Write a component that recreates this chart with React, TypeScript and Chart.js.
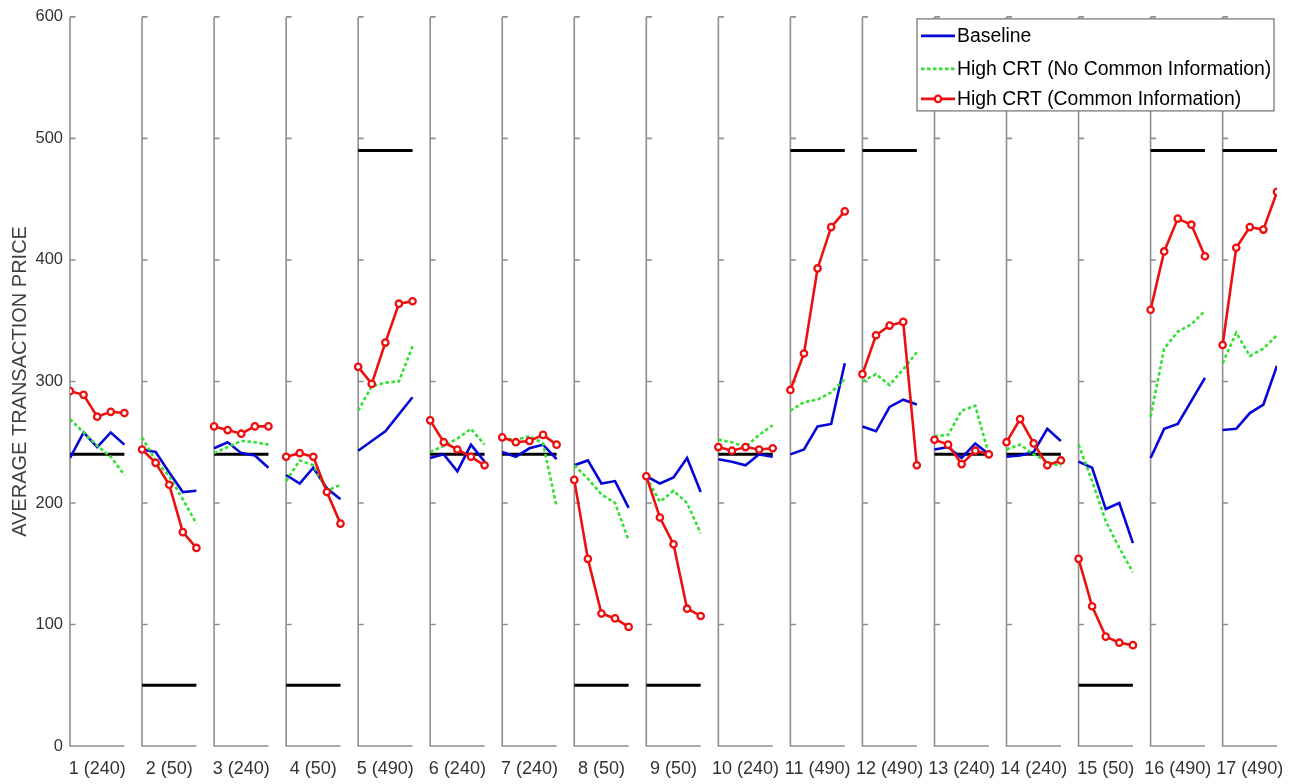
import React, { useEffect, useRef } from 'react';
import { Chart, registerables } from 'chart.js';

Chart.register(...registerables);

// ---------------- data ----------------
const panelLabels = [
  '1 (240)', '2 (50)', '3 (240)', '4 (50)', '5 (490)', '6 (240)', '7 (240)', '8 (50)', '9 (50)',
  '10 (240)', '11 (490)', '12 (490)', '13 (240)', '14 (240)', '15 (50)', '16 (490)', '17 (490)',
];
const periods = [1, 2, 3, 4, 5];
const equilibrium = [240, 50, 240, 50, 490, 240, 240, 50, 50, 240, 490, 490, 240, 240, 50, 490, 490];

const baseline = [
  [237, 258, 246, 258, 248],
  [244, 242, 225, 209, 210],
  [245, 250, 241, 239, 229],
  [223, 216, 229, 212, 203],
  [243, 251, 259, 273, 287],
  [237, 240, 226, 248, 234],
  [242, 238, 245, 248, 236],
  [231, 235, 216, 218, 196],
  [222, 216, 221, 237, 209],
  [236, 234, 231, 240, 238],
  [240, 244, 263, 265, 315],
  [263, 259, 279, 285, 281],
  [244, 246, 237, 249, 240],
  [238, 239, 242, 261, 251],
  [234, 229, 195, 200, 167],
  [237, 261, 265, 284, 303],
  [260, 261, 274, 281, 313],
];

const highCrtNoInfo = [
  [269, 258, 247, 238, 223],
  [254, 235, 222, 203, 183],
  [241, 246, 251, 250, 248],
  [218, 235, 231, 210, 215],
  [276, 296, 299, 300, 329],
  [242, 247, 253, 261, 248],
  [253, 252, 255, 249, 197],
  [231, 220, 207, 200, 169],
  [221, 201, 210, 200, 175],
  [252, 250, 246, 256, 264],
  [276, 283, 285, 291, 302],
  [300, 306, 297, 310, 324],
  [255, 256, 276, 280, 240],
  [244, 248, 240, 234, 230],
  [248, 218, 185, 163, 143],
  [271, 327, 341, 347, 358],
  [315, 340, 321, 327, 338],
];

const highCrtInfo = [
  [292, 289, 271, 275, 274],
  [244, 233, 215, 176, 163],
  [263, 260, 257, 263, 263],
  [238, 241, 238, 209, 183],
  [312, 298, 332, 364, 366],
  [268, 250, 244, 238, 231],
  [254, 250, 251, 256, 248],
  [219, 154, 109, 105, 98],
  [222, 188, 166, 113, 107],
  [246, 243, 246, 244, 245],
  [293, 323, 393, 427, 440],
  [306, 338, 346, 349, 231],
  [252, 248, 232, 243, 240],
  [250, 269, 249, 231, 235],
  [154, 115, 90, 85, 83],
  [359, 407, 434, 429, 403],
  [330, 410, 427, 425, 456],
];

const yTicks = [0, 100, 200, 300, 400, 500, 600];

// ------------- layout constants -------------
const PITCH = 5.3; // x-units between panel origins (panel spans 4 units)
const SPAN = periods[periods.length - 1] - periods[0];
const FONT = "'Liberation Sans', Arial, Helvetica, sans-serif";

const toX = (panel: number, period: number) => panel * PITCH + (period - periods[0]);

function buildSeries(values: number[][]) {
  const pts: { x: number; y: number | null }[] = [];
  values.forEach((row, i) => {
    row.forEach((v, j) => pts.push({ x: toX(i, periods[j]), y: v }));
    if (i < values.length - 1) pts.push({ x: toX(i, periods[0]) + SPAN + 0.5, y: null });
  });
  return pts;
}

function buildEquilibrium() {
  const pts: { x: number; y: number | null }[] = [];
  equilibrium.forEach((v, i) => {
    pts.push({ x: toX(i, periods[0]), y: v });
    pts.push({ x: toX(i, periods[periods.length - 1]), y: v });
    if (i < equilibrium.length - 1) pts.push({ x: toX(i, periods[0]) + SPAN + 0.5, y: null });
  });
  return pts;
}

const panelAxesPlugin = {
  id: 'panelAxes',
  beforeDatasetsDraw(chart: any) {
    const { ctx } = chart;
    const x = chart.scales.x;
    const y = chart.scales.y;
    ctx.save();
    ctx.strokeStyle = '#8e8e8e';
    ctx.lineWidth = 1.6;
    const yb = y.getPixelForValue(yTicks[0]);
    const yt = y.getPixelForValue(yTicks[yTicks.length - 1]);
    panelLabels.forEach((_, i) => {
      const xl = x.getPixelForValue(toX(i, periods[0]));
      const xr = x.getPixelForValue(toX(i, periods[periods.length - 1]));
      ctx.beginPath();
      ctx.moveTo(xl, yt);
      ctx.lineTo(xl, yb);
      ctx.lineTo(xr, yb);
      yTicks.forEach((t) => {
        const py = y.getPixelForValue(t);
        ctx.moveTo(xl, py);
        ctx.lineTo(xl + 5.5, py);
      });
      ctx.stroke();
    });
    ctx.restore();
  },
};

const boxLegendPlugin = {
  id: 'boxLegend',
  afterDraw(chart: any) {
    const { ctx, chartArea } = chart;
    const w = 357;
    const h = 92;
    const x0 = chartArea.right - 3 - w;
    const y0 = chartArea.top + 2;
    ctx.save();
    ctx.fillStyle = '#ffffff';
    ctx.fillRect(x0, y0, w, h);
    ctx.strokeStyle = '#7a7a7a';
    ctx.lineWidth = 1.3;
    ctx.strokeRect(x0, y0, w, h);
    const rows = [17, 50, 80];
    const items = chart.data.datasets.filter((d: any) => d.showInLegend);
    items.forEach((d: any, k: number) => {
      const cy = y0 + rows[k];
      ctx.save();
      ctx.strokeStyle = d.borderColor;
      ctx.lineWidth = d.borderWidth;
      ctx.setLineDash(d.borderDash || []);
      ctx.beginPath();
      ctx.moveTo(x0 + 4, cy);
      ctx.lineTo(x0 + 38, cy);
      ctx.stroke();
      ctx.setLineDash([]);
      if (d.pointRadius > 0) {
        ctx.beginPath();
        ctx.arc(x0 + 21, cy, d.pointRadius, 0, Math.PI * 2);
        ctx.fillStyle = d.pointBackgroundColor;
        ctx.fill();
        ctx.lineWidth = d.pointBorderWidth;
        ctx.strokeStyle = d.pointBorderColor;
        ctx.stroke();
      }
      ctx.restore();
      ctx.fillStyle = '#000000';
      ctx.font = `19.4px ${FONT}`;
      ctx.textBaseline = 'middle';
      ctx.textAlign = 'left';
      ctx.fillText(d.label, x0 + 40, cy + 1);
    });
    ctx.restore();
  },
};

export default function App() {
  const canvasRef = useRef<HTMLCanvasElement | null>(null);

  useEffect(() => {
    const canvas = canvasRef.current;
    if (!canvas) return;
    Chart.defaults.font.family = FONT;
    const chart = new Chart(canvas, {
      type: 'line',
      data: {
        datasets: [
          {
            label: 'Equilibrium',
            data: buildEquilibrium(),
            borderColor: '#000000',
            borderWidth: 3,
            pointRadius: 0,
            spanGaps: false,
            order: 4,
          } as any,
          {
            label: 'Baseline',
            data: buildSeries(baseline),
            borderColor: '#0505d8',
            borderWidth: 2.6,
            pointRadius: 0,
            spanGaps: false,
            showInLegend: true,
            order: 3,
          } as any,
          {
            label: 'High CRT (No Common Information)',
            data: buildSeries(highCrtNoInfo),
            borderColor: '#33e033',
            borderWidth: 2.6,
            borderDash: [3.5, 2.5],
            borderCapStyle: 'butt',
            pointRadius: 0,
            spanGaps: false,
            showInLegend: true,
            order: 2,
          } as any,
          {
            label: 'High CRT (Common Information)',
            data: buildSeries(highCrtInfo),
            borderColor: '#ec1010',
            borderWidth: 2.6,
            pointRadius: 3.2,
            pointBorderWidth: 2.3,
            pointBorderColor: '#ec1010',
            pointBackgroundColor: '#ffffff',
            spanGaps: false,
            showInLegend: true,
            order: 1,
          } as any,
        ],
      },
      options: {
        responsive: false,
        animation: false,
        events: [],
        layout: { padding: { left: 0, right: 22, top: 13, bottom: 0 } },
        plugins: {
          legend: { display: false },
          tooltip: { enabled: false },
        },
        elements: { line: { tension: 0 } },
        scales: {
          x: {
            type: 'linear',
            min: toX(0, periods[0]),
            max: toX(panelLabels.length - 1, periods[periods.length - 1]),
            grid: { display: false, drawTicks: false },
            border: { display: false },
            afterBuildTicks: (scale: any) => {
              scale.ticks = panelLabels.map((_, i) => ({ value: toX(i, periods[0]) + SPAN / 2 }));
            },
            afterFit: (scale: any) => {
              scale.height = 38;
            },
            ticks: {
              autoSkip: false,
              maxRotation: 0,
              minRotation: 0,
              padding: 12,
              color: '#333333',
              font: { size: 18, family: FONT },
              callback: (_v: any, idx: number) => panelLabels[idx],
            },
          },
          y: {
            type: 'linear',
            min: yTicks[0],
            max: yTicks[yTicks.length - 1],
            grid: { display: false, drawTicks: false },
            border: { display: false },
            afterBuildTicks: (scale: any) => {
              scale.ticks = yTicks.map((v) => ({ value: v }));
            },
            afterFit: (scale: any) => {
              scale.width = 70;
            },
            ticks: {
              padding: 7,
              color: '#333333',
              font: { size: 16.5, family: FONT },
              callback: (v: any) => String(v),
            },
            title: {
              display: true,
              text: 'AVERAGE TRANSACTION PRICE',
              color: '#404040',
              font: { size: 20, family: FONT },
              padding: { top: 8, bottom: 0 },
            },
          },
        },
      },
      plugins: [panelAxesPlugin, boxLegendPlugin],
    } as any);
    return () => chart.destroy();
  }, []);

  return (
    <canvas
      ref={canvasRef}
      width={1299}
      height={784}
      style={{ position: 'absolute', left: 0, top: 0, display: 'block' }}
    />
  );
}
